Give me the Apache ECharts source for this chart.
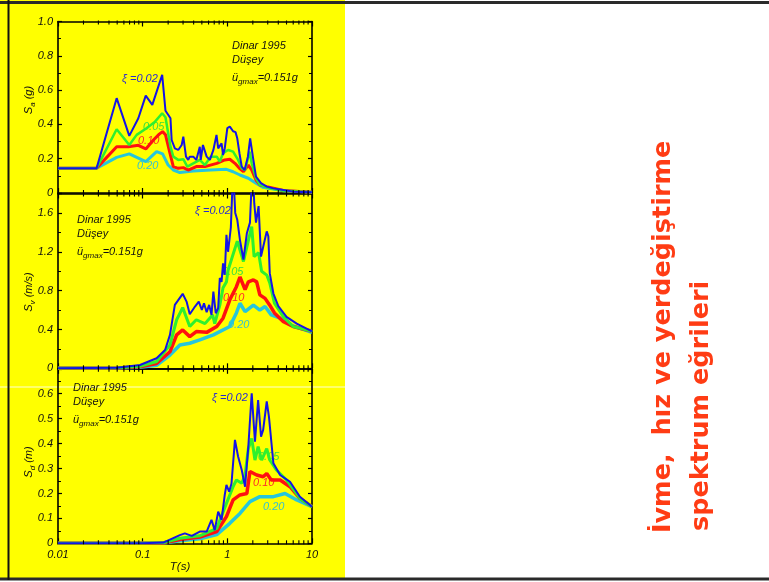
<!DOCTYPE html>
<html><head><meta charset="utf-8">
<script src="https://cdn.jsdelivr.net/npm/echarts@6/dist/echarts.min.js"></script>
<style>html,body{margin:0;padding:0;background:#fff}#c{width:769px;height:582px}</style>
</head><body><div id="c"></div>
<script>
// ---------- DATA ----------
const xTickLabels = ['0.01', '0.1', '1', '10'];
const minorPeriods = [0.02,0.03,0.04,0.05,0.06,0.07,0.08,0.09,0.2,0.3,0.4,0.5,0.6,0.7,0.8,0.9,2,3,4,5,6,7,8,9];
const dampingLabels = ['ξ =0.02', '0.05', '0.10', '0.20'];
const quakeName = 'Dinar 1995';
const componentName = 'Düşey';
const pgaText = '=0.151g';

// Sa (g) vs T (s)
const sa002 = [[0.01,0.145],[0.0286,0.145],[0.0493,0.553],[0.0695,0.333],[0.0889,0.436],[0.1087,0.568],[0.130,0.514],[0.170,0.689],[0.186,0.480],[0.201,0.455],[0.213,0.436],[0.220,0.309],[0.240,0.260],[0.263,0.251],[0.289,0.280],[0.302,0.329],[0.325,0.212],[0.345,0.193],[0.360,0.212],[0.396,0.212],[0.43,0.193],[0.473,0.270],[0.485,0.193],[0.515,0.280],[0.57,0.212],[0.622,0.193],[0.684,0.251],[0.745,0.339],[0.78,0.260],[0.855,0.290],[0.89,0.222],[0.932,0.260],[1.0,0.378],[1.07,0.387],[1.12,0.397],[1.17,0.360],[1.25,0.355],[1.31,0.319],[1.39,0.232],[1.48,0.154],[1.60,0.134],[1.75,0.212],[1.86,0.319],[1.93,0.310],[2.03,0.193],[2.18,0.095],[2.50,0.057],[2.92,0.037],[3.50,0.027],[4.60,0.018],[6.0,0.008],[10,0.004]];
const sa005 = [[0.01,0.145],[0.0286,0.145],[0.0493,0.372],[0.0695,0.280],[0.0849,0.339],[0.111,0.378],[0.140,0.416],[0.170,0.465],[0.186,0.442],[0.213,0.270],[0.230,0.212],[0.263,0.193],[0.302,0.197],[0.337,0.154],[0.396,0.173],[0.473,0.193],[0.544,0.163],[0.636,0.212],[0.75,0.212],[0.815,0.183],[0.89,0.232],[1.02,0.251],[1.17,0.241],[1.34,0.193],[1.48,0.144],[1.62,0.134],[1.83,0.241],[1.94,0.173],[2.18,0.086],[2.42,0.047],[3.17,0.027],[4.60,0.013],[10,0.004]];
const sa010 = [[0.01,0.145],[0.0286,0.145],[0.0493,0.270],[0.0678,0.270],[0.0889,0.278],[0.109,0.257],[0.134,0.309],[0.157,0.343],[0.172,0.358],[0.186,0.340],[0.210,0.232],[0.230,0.154],[0.263,0.144],[0.302,0.148],[0.345,0.134],[0.43,0.154],[0.544,0.154],[0.75,0.173],[0.932,0.193],[1.07,0.197],[1.23,0.173],[1.39,0.144],[1.55,0.124],[1.77,0.163],[1.94,0.134],[2.18,0.076],[2.42,0.047],[2.92,0.037],[4.60,0.015],[10,0.004]];
const sa020 = [[0.01,0.145],[0.0286,0.145],[0.0493,0.208],[0.0695,0.228],[0.109,0.183],[0.146,0.241],[0.172,0.228],[0.200,0.163],[0.230,0.134],[0.275,0.119],[0.396,0.128],[0.636,0.134],[0.976,0.138],[1.17,0.124],[1.41,0.105],[1.77,0.086],[2.18,0.057],[2.65,0.033],[4.60,0.013],[10,0.004]];

// Sv (m/s) vs T (s)
const sv002 = [[0.01,0.0],[0.05,0.005],[0.093,0.034],[0.146,0.103],[0.184,0.189],[0.21,0.344],[0.24,0.653],[0.297,0.767],[0.33,0.687],[0.36,0.557],[0.415,0.636],[0.46,0.687],[0.50,0.60],[0.53,0.67],[0.57,0.578],[0.61,0.653],[0.65,0.55],[0.684,0.79],[0.73,0.567],[0.78,0.62],[0.815,0.93],[0.855,0.89],[0.89,1.08],[0.932,0.963],[0.976,1.375],[1.02,1.20],[1.10,1.45],[1.17,2.05],[1.24,1.60],[1.31,1.53],[1.41,1.32],[1.55,1.12],[1.70,1.39],[1.85,1.50],[1.98,2.10],[2.08,1.70],[2.18,1.50],[2.34,1.67],[2.50,1.15],[2.65,1.25],[2.92,1.41],[3.05,1.36],[3.17,0.98],[3.50,0.77],[4.0,0.64],[5.0,0.53],[6.6,0.46],[10,0.38]];
const sv005 = [[0.01,0.0],[0.05,0.004],[0.093,0.02],[0.146,0.07],[0.21,0.24],[0.252,0.50],[0.297,0.625],[0.36,0.43],[0.43,0.50],[0.544,0.46],[0.67,0.55],[0.71,0.46],[0.815,0.65],[0.89,0.83],[0.976,0.89],[1.02,1.01],[1.31,1.31],[1.55,1.10],[1.70,1.25],[1.94,1.46],[2.07,1.15],[2.34,1.19],[2.54,1.00],[2.92,0.96],[3.17,0.88],[3.6,0.67],[4.6,0.53],[6.0,0.43],[10,0.38]];
const sv010 = [[0.01,0.0],[0.05,0.003],[0.093,0.015],[0.146,0.05],[0.21,0.17],[0.252,0.344],[0.297,0.395],[0.36,0.326],[0.43,0.378],[0.57,0.37],[0.75,0.43],[0.89,0.516],[1.07,0.705],[1.28,0.84],[1.41,0.94],[1.62,0.81],[1.77,0.89],[2.03,0.91],[2.22,0.89],[2.42,0.756],[2.79,0.72],[3.17,0.65],[3.6,0.57],[4.6,0.48],[6.0,0.43],[10,0.38]];
const sv020 = [[0.01,0.0],[0.05,0.002],[0.093,0.01],[0.146,0.03],[0.21,0.137],[0.275,0.24],[0.36,0.258],[0.473,0.292],[0.684,0.344],[1.07,0.43],[1.28,0.57],[1.41,0.67],[1.62,0.584],[2.03,0.65],[2.42,0.60],[2.79,0.636],[3.3,0.55],[4.2,0.516],[5.5,0.447],[10,0.37]];

// Sd (m) vs T (s)
const sd002 = [[0.01,0.0],[0.1,0.0],[0.175,0.003],[0.275,0.033],[0.315,0.04],[0.38,0.03],[0.473,0.047],[0.57,0.047],[0.65,0.094],[0.71,0.053],[0.78,0.127],[0.855,0.094],[0.932,0.194],[0.976,0.234],[1.05,0.207],[1.12,0.24],[1.23,0.415],[1.34,0.348],[1.48,0.294],[1.62,0.227],[1.77,0.388],[1.94,0.602],[2.12,0.408],[2.31,0.575],[2.50,0.428],[2.65,0.455],[2.92,0.569],[3.10,0.508],[3.50,0.321],[4.2,0.274],[5.5,0.247],[7.2,0.187],[10,0.147]];
const sd005 = [[0.01,0.0],[0.1,0.0],[0.175,0.002],[0.275,0.02],[0.473,0.03],[0.75,0.06],[0.976,0.16],[1.17,0.227],[1.28,0.254],[1.48,0.241],[1.62,0.274],[1.77,0.38],[1.94,0.42],[2.12,0.334],[2.31,0.388],[2.54,0.334],[2.92,0.38],[3.17,0.334],[3.8,0.294],[5.0,0.254],[7.2,0.18],[10,0.147]];
const sd010 = [[0.01,0.0],[0.1,0.0],[0.175,0.001],[0.275,0.015],[0.473,0.025],[0.75,0.047],[0.976,0.107],[1.17,0.174],[1.41,0.194],[1.70,0.20],[1.85,0.288],[2.22,0.274],[2.65,0.267],[2.92,0.28],[3.3,0.254],[4.2,0.254],[5.5,0.227],[7.2,0.18],[10,0.147]];
const sd020 = [[0.01,0.0],[0.1,0.0],[0.175,0.001],[0.275,0.01],[0.473,0.018],[0.75,0.035],[1.07,0.08],[1.41,0.12],[1.85,0.167],[2.42,0.187],[3.5,0.187],[4.8,0.20],[6.6,0.174],[10,0.147]];

// ---------- CHART ----------
const FONT = '"Liberation Sans", Arial, sans-serif';
const colors = ['#1414e6', '#2ef02e', '#ff1010', '#26c6dc'];
const plots = [
  {curves:[sa002,sa005,sa010,sa020], top:21.5, height:171.5, max:1.0, interval:0.2, showMax:true, widths:[2,2.5,3,3]},
  {curves:[sv002,sv005,sv010,sv020], top:193.5, height:174.8, max:1.8, interval:0.4, showMax:false, widths:[2,3,3.5,3.5]},
  {curves:[sd002,sd005,sd010,sd020], top:368.8, height:174.5, max:0.7, interval:0.1, showMax:false, widths:[2,3,3.5,3.5]}
];

const grids = [], xAxes = [], yAxes = [], series = [];
const lineSt = {color:'#000', width:1.6};
plots.forEach((p, g) => {
  grids.push({left:58, top:p.top, width:254, height:p.height, show:false});
  ['bottom','top'].forEach(pos => {
    xAxes.push({type:'log', logBase:10, gridIndex:g, position:pos, min:0.01, max:10,
      axisLine:{show:true, onZero:false, lineStyle:lineSt},
      axisTick:{show:true, inside:true, length:5, lineStyle:{color:'#000', width:1.2}},
      axisLabel:{show: (g === 2 && pos === 'bottom'), margin:6, color:'#111', fontStyle:'italic', fontSize:11, fontFamily:FONT,
        formatter: v => { const s = Number(v.toPrecision(3)); const i = [0.01,0.1,1,10].indexOf(s); return i >= 0 ? xTickLabels[i] : ''; }},
      splitLine:{show:false}, minorTick:{show:false}});
  });
  ['left','right'].forEach(pos => {
    yAxes.push({type:'value', gridIndex:g, position:pos, min:0, max:p.max, interval:p.interval,
      axisLine:{show:true, onZero:false, lineStyle:lineSt},
      axisTick:{show:true, inside:true, length:4, lineStyle:{color:'#000', width:1.2}},
      minorTick:{show:true, splitNumber:2, length:3, lineStyle:{color:'#000', width:1}},
      axisLabel:{show: pos === 'left', margin:5, color:'#111', fontStyle:'italic', fontSize:11, fontFamily:FONT,
        showMaxLabel:p.showMax, formatter: v => v === 0 ? '0' : v.toFixed(1)},
      splitLine:{show:false}});
  });
  // minor log ticks on bottom and top edges
  series.push({type:'custom', xAxisIndex:2*g, yAxisIndex:2*g, silent:true, clip:false, z:5,
    data: minorPeriods.map(t => [t, 0]),
    renderItem: (params, api) => {
      const t = api.value(0);
      const b = api.coord([t, 0]);
      const u = api.coord([t, p.max]);
      const st = {stroke:'#000', lineWidth:1.1};
      return {type:'group', children:[
        {type:'line', shape:{x1:b[0], y1:b[1]+1, x2:b[0], y2:b[1]-3}, style:st},
        {type:'line', shape:{x1:u[0], y1:u[1]-1, x2:u[0], y2:u[1]+3}, style:st}
      ]};
    }});
  // curves: cyan, red, green, blue (blue on top)
  [3,2,1,0].forEach(k => {
    series.push({type:'line', xAxisIndex:2*g, yAxisIndex:2*g, data:p.curves[k], showSymbol:false, symbol:'none',
      smooth:false, clip:true, z:3+(3-k)*0.1,
      lineStyle:{color:colors[k], width:p.widths[k]}, emphasis:{disabled:true}});
  });
});

function t(x, y, text, fill, extra) {
  return Object.assign({type:'text', x:x, y:y, z:1, silent:true,
    style:{text:text, fill:fill, fontStyle:'italic', fontSize:11, fontFamily:FONT, align:'left', verticalAlign:'middle'}}, extra || {});
}
const subRich = {
  m:{fontStyle:'italic', fontSize:11, fontFamily:FONT, fill:'#111', lineHeight:16, verticalAlign:'middle'},
  s:{fontStyle:'italic', fontSize:8, fontFamily:FONT, fill:'#111', lineHeight:16, verticalAlign:'bottom'}
};
function rich(x, y, text, align, rot) {
  return {type:'text', x:x, y:y, z:1, rotation:rot || 0, silent:true,
    style:{text:text, rich:subRich, align:align, verticalAlign:'middle', fontSize:11, fontFamily:FONT, fill:'#111'}};
}
function annot(x, y0) {
  return [
    t(x, y0, quakeName, '#111'),
    t(x, y0 + 14, componentName, '#111'),
    rich(x, y0 + 32, '{m|ü}{s|gmax}{m|' + pgaText + '}', 'left')
  ];
}
const lblCol = ['#2a2ad0', '#3ce03c', '#ff2a2a', '#38c0d0'];
const graphics = [
  {type:'rect', z:-10, silent:true, shape:{x:0, y:0, width:345, height:580}, style:{fill:'#ffff00'}},
  {type:'line', z:-9, silent:true, shape:{x1:0, y1:387, x2:345, y2:387}, style:{stroke:'rgba(255,255,235,0.9)', lineWidth:1}},
  {type:'line', z:-8, silent:true, shape:{x1:0, y1:2.5, x2:769, y2:2.5}, style:{stroke:'#2a2a2a', lineWidth:3}},
  {type:'line', z:-8, silent:true, shape:{x1:0, y1:579, x2:769, y2:579}, style:{stroke:'#2a2a2a', lineWidth:3}},
  {type:'line', z:-8, silent:true, shape:{x1:8.5, y1:0, x2:8.5, y2:580}, style:{stroke:'#111', lineWidth:2}},
  ...annot(232, 46),
  ...annot(77, 220),
  ...annot(73, 388),
  t(122, 79, dampingLabels[0], lblCol[0]),
  t(143, 127, dampingLabels[1], lblCol[1]),
  t(138, 141, dampingLabels[2], lblCol[2]),
  t(137, 166, dampingLabels[3], lblCol[3]),
  t(195, 211, dampingLabels[0], lblCol[0]),
  t(222, 272, dampingLabels[1], lblCol[1]),
  t(223, 298, dampingLabels[2], lblCol[2]),
  t(228, 325, dampingLabels[3], lblCol[3]),
  t(212, 398, dampingLabels[0], lblCol[0]),
  t(258, 457, dampingLabels[1], lblCol[1]),
  t(253, 483, dampingLabels[2], lblCol[2]),
  t(263, 507, dampingLabels[3], lblCol[3]),
  rich(29, 100, '{m|S}{s|a}{m| (g)}', 'center', Math.PI / 2),
  rich(29, 292, '{m|S}{s|v}{m| (m/s)}', 'center', Math.PI / 2),
  rich(29, 462, '{m|S}{s|d}{m| (m)}', 'center', Math.PI / 2),
  t(180, 567, 'T(s)', '#111', {style:{text:'T(s)', fill:'#111', fontStyle:'italic', fontSize:11.5, fontFamily:FONT, align:'center', verticalAlign:'middle'}}),
  {type:'text', x:663.5, y:533, rotation:Math.PI / 2, silent:true,
    style:{text:'İvme,  hız ve yerdeğiştirme', fill:'#ff3c14', fontWeight:'bold', fontSize:25.5, fontFamily:'"DejaVu Sans", sans-serif', align:'left', verticalAlign:'middle'}},
  {type:'text', x:701.5, y:531, rotation:Math.PI / 2, silent:true,
    style:{text:'spektrum eğrileri', fill:'#ff3c14', fontWeight:'bold', fontSize:25.5, fontFamily:'"DejaVu Sans", sans-serif', align:'left', verticalAlign:'middle'}}
];

const chart = echarts.init(document.getElementById('c'), null, {renderer:'canvas'});
chart.setOption({
  animation:false,
  backgroundColor:'#ffffff',
  grid:grids, xAxis:xAxes, yAxis:yAxes, series:series,
  graphic:{elements:graphics}
});
</script>
</body></html>
